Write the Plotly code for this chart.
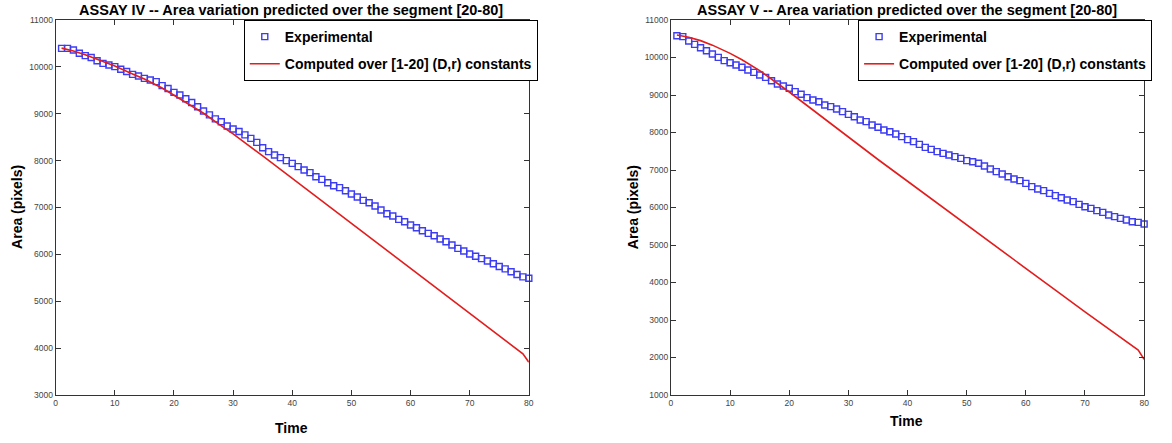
import plotly.graph_objects as go

W, H = 1172, 443

# ---------------- data ----------------
time = list(range(1, 81))

assay4_experimental = [
    10395, 10395, 10360, 10290, 10240, 10200, 10130, 10075, 10040, 10005,
    9950, 9900, 9840, 9805, 9755, 9720, 9685, 9600, 9540, 9455,
    9400, 9320, 9240, 9150, 9060, 8975, 8890, 8830, 8740, 8675,
    8620, 8550, 8475, 8390, 8276, 8191, 8120, 8063, 7999, 7942,
    7871, 7800, 7743, 7657, 7600, 7529, 7465, 7423, 7358, 7287,
    7223, 7152, 7102, 7031, 6946, 6868, 6818, 6747, 6697, 6626,
    6569, 6505, 6448, 6398, 6327, 6270, 6199, 6128, 6071, 6007,
    5960, 5910, 5860, 5800, 5740, 5690, 5630, 5570, 5520, 5490,
]

assay5_experimental = [
    10582, 10556, 10440, 10351, 10262, 10182, 10093, 10004, 9916, 9862,
    9800, 9738, 9667, 9604, 9533, 9471, 9382, 9293, 9240, 9178,
    9089, 9018, 8929, 8867, 8822, 8733, 8689, 8627, 8556, 8484,
    8422, 8333, 8289, 8200, 8138, 8067, 8022, 7960, 7889, 7810,
    7756, 7684, 7604, 7551, 7489, 7444, 7400, 7356, 7311, 7249,
    7222, 7178, 7107, 7027, 6956, 6893, 6822, 6760, 6716, 6644,
    6556, 6493, 6449, 6378, 6316, 6262, 6200, 6156, 6084, 6022,
    5978, 5916, 5871, 5800, 5756, 5711, 5667, 5622, 5604, 5560,
]

assay4_computed_time = [1, 3, 5, 7, 10, 13, 15, 18, 20, 22, 25, 28, 30, 35, 40, 45,
                        50, 55, 60, 65, 70, 75, 79, 80]
assay4_computed = [10400, 10340, 10260, 10170, 10020, 9850, 9740, 9550, 9400, 9250,
                   9010, 8740, 8570, 8100, 7620, 7140, 6660, 6180, 5700, 5220,
                   4740, 4260, 3880, 3700]

assay5_computed_time = [1, 3, 5, 7, 10, 12, 15, 18, 20, 22, 25, 28, 30, 35, 40, 45,
                        50, 55, 60, 65, 70, 75, 79, 80]
assay5_computed = [10600, 10540, 10450, 10330, 10110, 9940, 9650, 9320, 9080, 8840,
                   8480, 8110, 7870, 7280, 6700, 6115, 5535, 4955, 4375, 3795,
                   3215, 2640, 2200, 1950]

x_ticks = [0, 10, 20, 30, 40, 50, 60, 70, 80]
y_ticks_4 = [3000, 4000, 5000, 6000, 7000, 8000, 9000, 10000, 11000]
y_ticks_5 = [1000, 2000, 3000, 4000, 5000, 6000, 7000, 8000, 9000, 10000, 11000]

titles = ["ASSAY IV -- Area variation predicted over the segment [20-80]",
          "ASSAY V -- Area variation predicted over the segment [20-80]"]
name_exp = "Experimental"
name_comp = "Computed over [1-20] (D,r) constants"

# ---------------- style ----------------
BLUE = "#3c3cf2"
RED = "#e31d1d"
FONT = "Liberation Sans"
AX = "#333333"

# plot areas in pixels
L1, R1 = 54, 530
L2, R2 = 673, 1149
TOP, BOT = 20, 395
MT, MB = TOP, H - BOT

def px(x):
    return x / W

def py(y):
    return (BOT - y) / (BOT - TOP)

fig = go.Figure()

fig.add_trace(go.Scatter(
    x=time, y=assay4_experimental, mode="markers", name=name_exp,
    marker=dict(symbol="square-open", size=6, color=BLUE, line=dict(width=1.4, color=BLUE)),
    xaxis="x", yaxis="y", legend="legend", legendgroup="a", cliponaxis=False))
fig.add_trace(go.Scatter(
    x=assay4_computed_time, y=assay4_computed, mode="lines", name=name_comp,
    line=dict(color=RED, width=1.6),
    xaxis="x", yaxis="y", legend="legend", legendgroup="b"))
fig.add_trace(go.Scatter(
    x=time, y=assay5_experimental, mode="markers", name=name_exp,
    marker=dict(symbol="square-open", size=6, color=BLUE, line=dict(width=1.4, color=BLUE)),
    xaxis="x2", yaxis="y2", legend="legend2", legendgroup="c", cliponaxis=False))
fig.add_trace(go.Scatter(
    x=assay5_computed_time, y=assay5_computed, mode="lines", name=name_comp,
    line=dict(color=RED, width=1.6),
    xaxis="x2", yaxis="y2", legend="legend2", legendgroup="d"))

axis_common = dict(
    showline=True, linecolor=AX, linewidth=1, mirror="ticks",
    ticks="inside", ticklen=5, tickcolor=AX, tickwidth=1,
    tickfont=dict(size=8.5, color="#444444", family=FONT),
    tickformat="d",
    showgrid=False, zeroline=False,
)

legend_common = dict(
    yanchor="top", y=1.0, xanchor="right",
    bordercolor="black", borderwidth=1, bgcolor="white",
    font=dict(size=14, family=FONT, color="black", weight="bold"),
    traceorder="grouped", tracegroupgap=6,
)

fig.update_layout(
    width=W, height=H,
    margin=dict(l=0, r=0, t=MT, b=MB, pad=0),
    paper_bgcolor="white", plot_bgcolor="white",
    font=dict(family=FONT, color="black"),
    xaxis=dict(domain=[px(L1), px(R1)], range=[0, 80], tickvals=x_ticks, anchor="y", **axis_common),
    yaxis=dict(domain=[0, 1], range=[3000, 11000], tickvals=y_ticks_4, anchor="x", **axis_common),
    xaxis2=dict(domain=[px(L2), px(R2)], range=[0, 80], tickvals=x_ticks, anchor="y2", **axis_common),
    yaxis2=dict(domain=[0, 1], range=[1000, 11000], tickvals=y_ticks_5, anchor="x2", **axis_common),
    legend=dict(x=px(539), **legend_common),
    legend2=dict(x=px(1157), **legend_common),
    showlegend=True,
    hovermode=False,
)

ann = []
title_font = dict(size=14.5, family=FONT, color="black", weight="bold")
label_font = dict(size=14, family=FONT, color="black", weight="bold")
ann.append(dict(text=titles[0], x=px(291), y=py(10), xref="paper", yref="paper",
                xanchor="center", yanchor="middle", showarrow=False, font=title_font))
ann.append(dict(text=titles[1], x=px(910), y=py(10), xref="paper", yref="paper",
                xanchor="center", yanchor="middle", showarrow=False, font=title_font))
ann.append(dict(text="Time", x=px(291), y=py(428), xref="paper", yref="paper",
                xanchor="center", yanchor="middle", showarrow=False, font=label_font))
ann.append(dict(text="Time", x=px(910), y=py(421), xref="paper", yref="paper",
                xanchor="center", yanchor="middle", showarrow=False, font=label_font))
ann.append(dict(text="Area (pixels)", x=px(15), y=py(207), xref="paper", yref="paper",
                xanchor="center", yanchor="middle", textangle=-90, showarrow=False, font=label_font))
ann.append(dict(text="Area (pixels)", x=px(635), y=py(207), xref="paper", yref="paper",
                xanchor="center", yanchor="middle", textangle=-90, showarrow=False, font=label_font))
fig.update_layout(annotations=ann)

fig.write_html("out.html", config={"displayModeBar": False},
               post_script="document.body.style.margin='0';document.body.style.overflow='hidden';")
